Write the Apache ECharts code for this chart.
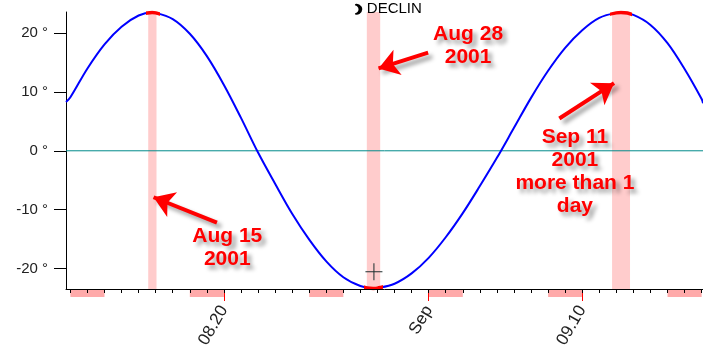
<!DOCTYPE html>
<html><head><meta charset="utf-8">
<script src="https://cdn.jsdelivr.net/npm/echarts@6/dist/echarts.min.js"></script>
<style>html,body{margin:0;padding:0;background:#fff}#c{width:703px;height:358px}</style>
</head><body><div id="c"></div>
<script>
// ---- data ----
const times = ['2001-08-10 17:50','2001-08-11','2001-08-12','2001-08-13','2001-08-14','2001-08-15','2001-08-15 19:00','2001-08-16','2001-08-17','2001-08-18','2001-08-19','2001-08-20','2001-08-21','2001-08-22','2001-08-23','2001-08-24','2001-08-25','2001-08-26','2001-08-27','2001-08-28','2001-08-28 18:00','2001-08-29','2001-08-30','2001-08-31','2001-09-01','2001-09-02','2001-09-03','2001-09-04','2001-09-05','2001-09-06','2001-09-07','2001-09-08','2001-09-09','2001-09-10','2001-09-11','2001-09-12','2001-09-12 06:30','2001-09-13','2001-09-14','2001-09-15','2001-09-16','2001-09-17','2001-09-17 01:55'];
const declin = [8.3,9.1,14.0,18.1,21.1,23.0,23.5,23.45,22.4,19.9,16.1,11.2,5.6,-0.3,-5.6,-10.7,-15.1,-18.8,-21.5,-23.0,-23.4,-23.35,-22.6,-20.85,-18.2,-14.7,-10.6,-6.0,-1.2,3.9,9.0,13.6,17.5,20.5,22.6,23.45,23.5,23.1,21.4,18.3,13.9,8.8,8.1];
const zeroLine = [0, 0];
const bandStart = ['2001-08-15 13:30','2001-08-28 09:00','2001-09-11 18:00'];
const bandEnd   = ['2001-08-16 01:10','2001-08-29 03:50','2001-09-12 19:15'];
const redStart  = ['2001-08-15 11:00','2001-08-28 05:00','2001-09-11 15:00'];
const redEnd    = ['2001-08-16 06:00','2001-08-29 08:00','2001-09-12 21:30'];
const weekendStart = ['2001-08-11','2001-08-18','2001-08-25','2001-09-01','2001-09-08','2001-09-15'];
const weekendEnd   = ['2001-08-13','2001-08-20','2001-08-27','2001-09-03','2001-09-10','2001-09-17'];
const majorTicks  = ['2001-08-20','2001-09-01','2001-09-10'];
const majorLabels = ['08.20','Sep','09.10'];
const yTicks = [-20,-10,0,10,20];
const annotTexts = ['Aug 15\n2001','Aug 28\n2001','Sep 11\n2001\nmore than 1\nday'];
const xMin = '2001-08-10 17:50', xMax = '2001-09-17 01:55';
// -------------------------------------
function t(s){const p=s.split(' ');const d=p[0].split('-').map(Number);const h=(p[1]||'00:00').split(':').map(Number);return new Date(d[0],d[1]-1,d[2],h[0],h[1]).getTime();}
const tMin=t(xMin), tMax=t(xMax);
const lineData = times.map((s,i)=>[t(s),declin[i]]);
const days=[]; for(let v=t('2001-08-11'); v<=tMax; v+=86400000){days.push(v);}
const majorT = majorTicks.map(t);
const FONT='Liberation Sans, Arial, sans-serif';
const shadowText = {fontSize:21,fontWeight:'bold',color:'#ff0000',fontFamily:FONT,lineHeight:23,align:'center',
  textShadowColor:'rgba(0,0,0,0.4)',textShadowBlur:4,textShadowOffsetX:4,textShadowOffsetY:4};
const arrowStyle={color:'#ff0000',width:4,type:'solid',shadowColor:'rgba(0,0,0,0.4)',shadowBlur:4,shadowOffsetX:4,shadowOffsetY:4};
function arrow(a,b){return [{coord:[t(a[0]),a[1]],lineStyle:arrowStyle},{coord:[t(b[0]),b[1]]}];}
function txt(i,at){return {coord:[t(at[0]),at[1]],symbol:'rect',symbolSize:1,itemStyle:{color:'rgba(0,0,0,0)'},
  label:Object.assign({show:true,position:'inside',formatter:annotTexts[i]},shadowText)};}
const chart = echarts.init(document.getElementById('c'));
chart.setOption({
  animation:false,
  title:{text:'{m|☽} DECLIN',left:351,top:1,padding:0,textStyle:{fontSize:15,fontWeight:'normal',color:'#000',fontFamily:FONT,
    rich:{m:{fontSize:13,fontWeight:'bold',fontFamily:'DejaVu Sans',color:'#000',textBorderColor:'#000',textBorderWidth:1.4,padding:[3,0,0,0]}}}},
  grid:[{left:66,right:0,top:12,bottom:69,outerBoundsMode:'none'},{left:66,right:0,top:290,bottom:61,outerBoundsMode:'none'}],
  xAxis:[
    {type:'value',gridIndex:0,min:tMin,max:tMax,position:'bottom',z:10,
     axisLine:{onZero:false,lineStyle:{color:'#000',width:1}},
     axisTick:{show:true,customValues:majorT,length:12,lineStyle:{color:'#ff0000',width:1}},
     axisLabel:{customValues:majorT,rotate:60,margin:18,verticalAlign:'middle',padding:[7,0,0,0],fontSize:17,color:'#222',fontFamily:FONT,
       formatter:v=>{const i=majorT.indexOf(v);return i>=0?majorLabels[i]:'';}},
     splitLine:{show:false}},
    {type:'value',gridIndex:0,min:tMin,max:tMax,position:'bottom',z:10,
     axisLine:{show:false,onZero:false},
     axisTick:{show:true,customValues:days,length:4,lineStyle:{color:'#000',width:1}},
     axisLabel:{show:false},splitLine:{show:false}},
    {type:'value',gridIndex:1,min:tMin,max:tMax,show:false}
  ],
  yAxis:[
    {type:'value',gridIndex:0,min:-23.5,max:23.6,
     axisLine:{show:true,onZero:false,lineStyle:{color:'#000',width:1}},
     axisTick:{show:true,customValues:yTicks,length:12,lineStyle:{color:'#000'}},
     axisLabel:{customValues:yTicks,margin:18,fontSize:15,color:'#222',fontFamily:FONT,formatter:v=>v+' °'},
     splitLine:{show:false}},
    {type:'value',gridIndex:1,min:0,max:1,show:false}
  ],
  visualMap:[{type:'piecewise',show:false,seriesIndex:1,dimension:0,
    pieces:redStart.map((s,i)=>({gte:t(s),lte:t(redEnd[i]),color:'#ff0000'})),
    outOfRange:{color:'rgba(255,0,0,0)'}}],
  series:[
    {type:'line',xAxisIndex:0,yAxisIndex:0,data:lineData,showSymbol:false,smooth:0.35,
     lineStyle:{color:'#0000ff',width:2},itemStyle:{color:'#0000ff'},z:3,
     markArea:{silent:true,itemStyle:{color:'#ffcccc'},data:bandStart.map((s,i)=>[{xAxis:t(s)},{xAxis:t(bandEnd[i])}])}},
    {type:'line',xAxisIndex:0,yAxisIndex:0,data:lineData,showSymbol:false,smooth:0.35,lineStyle:{width:3.5},z:4},
    {type:'line',xAxisIndex:0,yAxisIndex:0,data:[[tMin,zeroLine[0]],[tMax,zeroLine[1]]],showSymbol:false,silent:true,z:2,
     lineStyle:{color:'#008b8b',width:1},itemStyle:{color:'#008b8b'}},
    {type:'line',xAxisIndex:0,yAxisIndex:0,data:[],z:6,
     markLine:{silent:true,symbol:['none','arrow'],symbolSize:20,label:{show:false},
       data:[arrow(['2001-08-19 14:10',-12.2],['2001-08-15 21:00',-7.9]),
             arrow(['2001-08-31 23:15',16.7],['2001-08-29 01:30',14.0]),
             arrow(['2001-09-08 15:50',5.5],['2001-09-11 20:45',11.5])]},
     markPoint:{silent:true,data:[txt(0,['2001-08-20 04:40',-16.4]),txt(1,['2001-09-03 07:30',17.8]),txt(2,['2001-09-09 13:45',-3.6]),
       {coord:[t('2001-08-28 19:00'),-20.56],symbol:'path://M-0.06,-1L0.06,-1L0.06,-0.06L1,-0.06L1,0.06L0.06,0.06L0.06,1L-0.06,1L-0.06,0.06L-1,0.06L-1,-0.06L-0.06,-0.06Z',symbolSize:17,itemStyle:{color:'#203030'},label:{show:false}}]}},
    {type:'line',xAxisIndex:2,yAxisIndex:1,data:[],
     markArea:{silent:true,itemStyle:{color:'#ffaaaa'},data:weekendStart.map((s,i)=>[{xAxis:t(s)},{xAxis:t(weekendEnd[i])}])}}
  ]
});
</script></body></html>
